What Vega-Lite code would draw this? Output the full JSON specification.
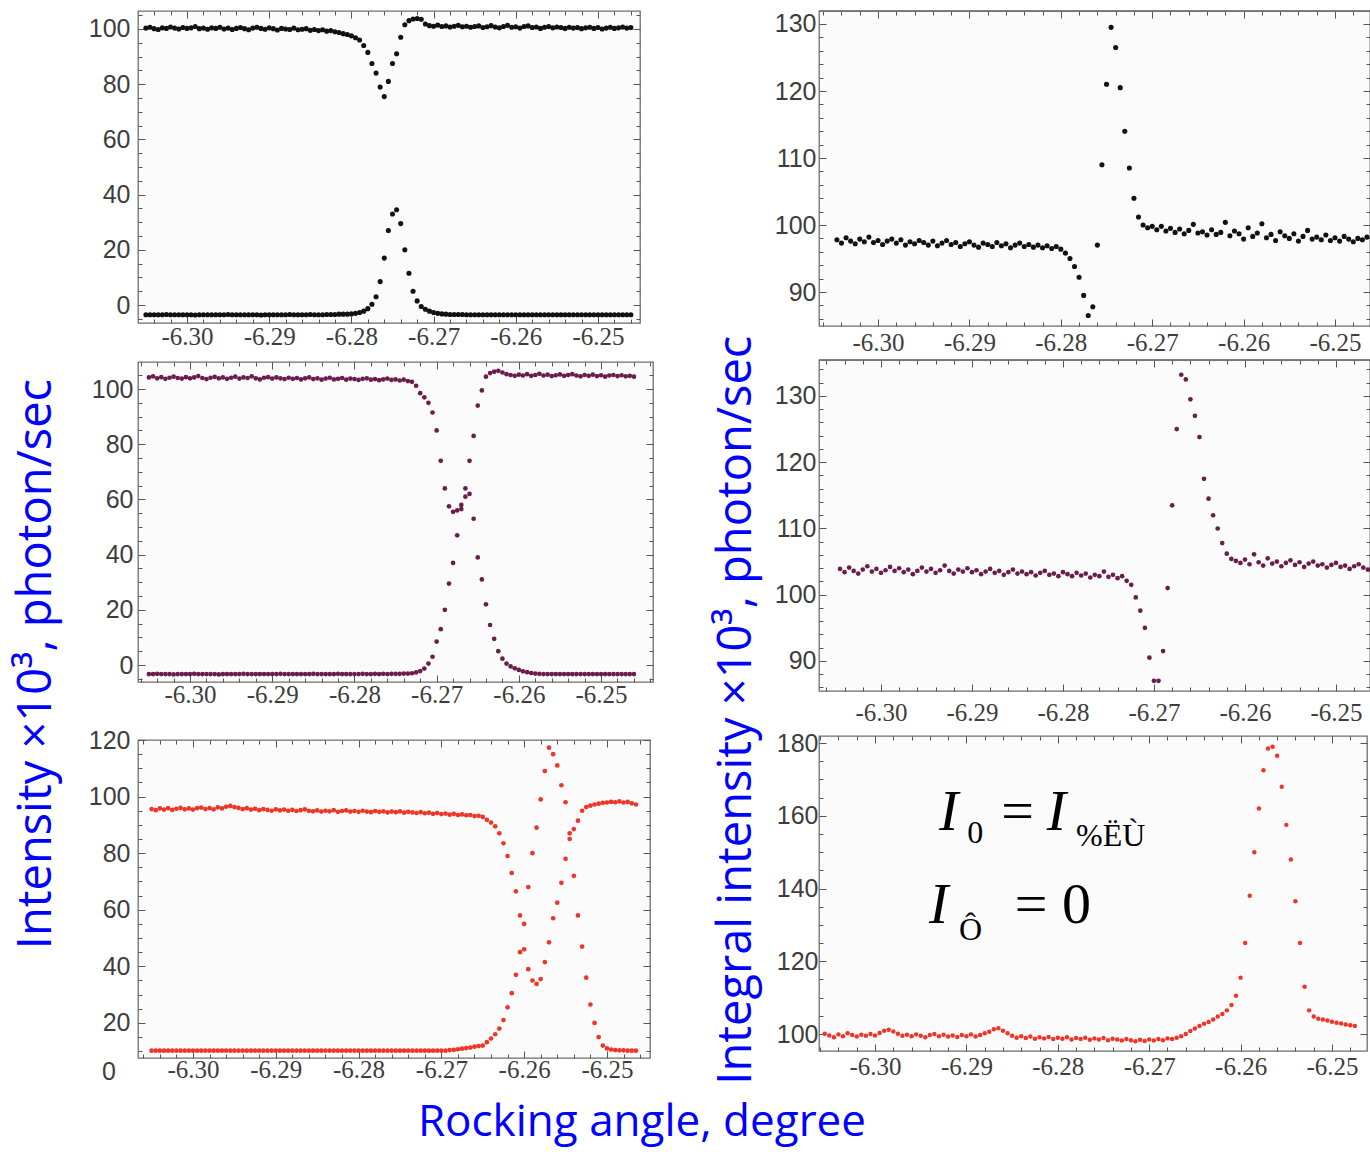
{
"$schema":"https://vega.github.io/schema/vega-lite/v6.json",
"background":"white",
"padding":{"left":12,"top":2,"right":0,"bottom":5},
"title":{"text":"Rocking angle, degree","orient":"bottom","anchor":"middle","offset":15,"dx":-50,"font":"Open Sans","fontSize":44,"fontWeight":"normal","color":"#0000ff"},
"datasets":{
"p1a":[{"x":-6.305,"y":100.3},{"x":-6.3045,"y":100.6},{"x":-6.304,"y":100.1},{"x":-6.3035,"y":99.8},{"x":-6.303,"y":100.4},{"x":-6.3025,"y":100.2},{"x":-6.302,"y":100.7},{"x":-6.3015,"y":100.3},{"x":-6.301,"y":100},{"x":-6.3005,"y":100.5},{"x":-6.3,"y":100.2},{"x":-6.2995,"y":100.4},{"x":-6.299,"y":100.9},{"x":-6.2985,"y":100.1},{"x":-6.298,"y":100.3},{"x":-6.2975,"y":99.9},{"x":-6.297,"y":100.4},{"x":-6.2965,"y":100.2},{"x":-6.296,"y":100.6},{"x":-6.2955,"y":100},{"x":-6.295,"y":100.3},{"x":-6.2945,"y":99.8},{"x":-6.294,"y":100.2},{"x":-6.2935,"y":100.5},{"x":-6.293,"y":100.1},{"x":-6.2925,"y":99.7},{"x":-6.292,"y":100.3},{"x":-6.2915,"y":100.6},{"x":-6.291,"y":100.2},{"x":-6.2905,"y":99.9},{"x":-6.29,"y":100.4},{"x":-6.2895,"y":100.1},{"x":-6.289,"y":99.6},{"x":-6.2885,"y":100.2},{"x":-6.288,"y":100},{"x":-6.2875,"y":99.8},{"x":-6.287,"y":100.3},{"x":-6.2865,"y":99.7},{"x":-6.286,"y":99.9},{"x":-6.2855,"y":100.1},{"x":-6.285,"y":99.5},{"x":-6.2845,"y":99.8},{"x":-6.284,"y":99.4},{"x":-6.2835,"y":99.7},{"x":-6.283,"y":99.2},{"x":-6.2825,"y":99.4},{"x":-6.282,"y":99},{"x":-6.2815,"y":98.7},{"x":-6.281,"y":98.3},{"x":-6.2805,"y":98},{"x":-6.28,"y":97.5},{"x":-6.2795,"y":96.8},{"x":-6.279,"y":96},{"x":-6.2785,"y":94},{"x":-6.278,"y":91.5},{"x":-6.2775,"y":87.5},{"x":-6.277,"y":84},{"x":-6.2765,"y":79},{"x":-6.276,"y":75.5},{"x":-6.2755,"y":81},{"x":-6.275,"y":87.5},{"x":-6.2745,"y":91},{"x":-6.274,"y":97},{"x":-6.2735,"y":101.5},{"x":-6.273,"y":103},{"x":-6.2725,"y":103.6},{"x":-6.272,"y":103.8},{"x":-6.2715,"y":103.5},{"x":-6.271,"y":101.8},{"x":-6.2705,"y":101.2},{"x":-6.27,"y":101},{"x":-6.2695,"y":101.4},{"x":-6.269,"y":100.9},{"x":-6.2685,"y":101.1},{"x":-6.268,"y":100.7},{"x":-6.2675,"y":101},{"x":-6.267,"y":101.3},{"x":-6.2665,"y":100.8},{"x":-6.266,"y":101},{"x":-6.2655,"y":100.6},{"x":-6.265,"y":100.9},{"x":-6.2645,"y":101.1},{"x":-6.264,"y":100.5},{"x":-6.2635,"y":100.8},{"x":-6.263,"y":101.2},{"x":-6.2625,"y":100.7},{"x":-6.262,"y":100.4},{"x":-6.2615,"y":100.9},{"x":-6.261,"y":101.3},{"x":-6.2605,"y":100.6},{"x":-6.26,"y":100.8},{"x":-6.2595,"y":100.3},{"x":-6.259,"y":100.9},{"x":-6.2585,"y":101.1},{"x":-6.258,"y":100.5},{"x":-6.2575,"y":100.7},{"x":-6.257,"y":100.2},{"x":-6.2565,"y":100.6},{"x":-6.256,"y":100.9},{"x":-6.2555,"y":100.4},{"x":-6.255,"y":100.7},{"x":-6.2545,"y":100.5},{"x":-6.254,"y":100.2},{"x":-6.2535,"y":100.6},{"x":-6.253,"y":100.3},{"x":-6.2525,"y":100.5},{"x":-6.252,"y":100.1},{"x":-6.2515,"y":100.4},{"x":-6.251,"y":100.6},{"x":-6.2505,"y":100.2},{"x":-6.25,"y":100.5},{"x":-6.2495,"y":100},{"x":-6.249,"y":100.3},{"x":-6.2485,"y":100.6},{"x":-6.248,"y":100.2},{"x":-6.2475,"y":100.4},{"x":-6.247,"y":100.7},{"x":-6.2465,"y":100.3},{"x":-6.246,"y":100.5}],
"p1b":[{"x":-6.305,"y":-3.5},{"x":-6.3045,"y":-3.5},{"x":-6.304,"y":-3.5},{"x":-6.3035,"y":-3.5},{"x":-6.303,"y":-3.5},{"x":-6.3025,"y":-3.4},{"x":-6.302,"y":-3.5},{"x":-6.3015,"y":-3.5},{"x":-6.301,"y":-3.5},{"x":-6.3005,"y":-3.5},{"x":-6.3,"y":-3.5},{"x":-6.2995,"y":-3.5},{"x":-6.299,"y":-3.6},{"x":-6.2985,"y":-3.5},{"x":-6.298,"y":-3.5},{"x":-6.2975,"y":-3.5},{"x":-6.297,"y":-3.5},{"x":-6.2965,"y":-3.5},{"x":-6.296,"y":-3.5},{"x":-6.2955,"y":-3.5},{"x":-6.295,"y":-3.4},{"x":-6.2945,"y":-3.5},{"x":-6.294,"y":-3.5},{"x":-6.2935,"y":-3.5},{"x":-6.293,"y":-3.5},{"x":-6.2925,"y":-3.5},{"x":-6.292,"y":-3.5},{"x":-6.2915,"y":-3.5},{"x":-6.291,"y":-3.6},{"x":-6.2905,"y":-3.5},{"x":-6.29,"y":-3.5},{"x":-6.2895,"y":-3.5},{"x":-6.289,"y":-3.5},{"x":-6.2885,"y":-3.5},{"x":-6.288,"y":-3.5},{"x":-6.2875,"y":-3.4},{"x":-6.287,"y":-3.5},{"x":-6.2865,"y":-3.5},{"x":-6.286,"y":-3.5},{"x":-6.2855,"y":-3.5},{"x":-6.285,"y":-3.4},{"x":-6.2845,"y":-3.5},{"x":-6.284,"y":-3.5},{"x":-6.2835,"y":-3.5},{"x":-6.283,"y":-3.4},{"x":-6.2825,"y":-3.4},{"x":-6.282,"y":-3.4},{"x":-6.2815,"y":-3.3},{"x":-6.281,"y":-3.3},{"x":-6.2805,"y":-3.3},{"x":-6.28,"y":-3.2},{"x":-6.2795,"y":-3},{"x":-6.279,"y":-2.7},{"x":-6.2785,"y":-2.2},{"x":-6.278,"y":-1.3},{"x":-6.2775,"y":0.3},{"x":-6.277,"y":3},{"x":-6.2765,"y":8.5},{"x":-6.276,"y":17},{"x":-6.2755,"y":27},{"x":-6.275,"y":33},{"x":-6.2745,"y":34.5},{"x":-6.274,"y":29.5},{"x":-6.2735,"y":20},{"x":-6.273,"y":11.5},{"x":-6.2725,"y":5},{"x":-6.272,"y":1.5},{"x":-6.2715,"y":-0.5},{"x":-6.271,"y":-1.5},{"x":-6.2705,"y":-2.2},{"x":-6.27,"y":-2.7},{"x":-6.2695,"y":-3},{"x":-6.269,"y":-3.2},{"x":-6.2685,"y":-3.3},{"x":-6.268,"y":-3.4},{"x":-6.2675,"y":-3.4},{"x":-6.267,"y":-3.4},{"x":-6.2665,"y":-3.4},{"x":-6.266,"y":-3.5},{"x":-6.2655,"y":-3.5},{"x":-6.265,"y":-3.5},{"x":-6.2645,"y":-3.5},{"x":-6.264,"y":-3.5},{"x":-6.2635,"y":-3.5},{"x":-6.263,"y":-3.5},{"x":-6.2625,"y":-3.5},{"x":-6.262,"y":-3.5},{"x":-6.2615,"y":-3.5},{"x":-6.261,"y":-3.5},{"x":-6.2605,"y":-3.5},{"x":-6.26,"y":-3.5},{"x":-6.2595,"y":-3.5},{"x":-6.259,"y":-3.5},{"x":-6.2585,"y":-3.5},{"x":-6.258,"y":-3.5},{"x":-6.2575,"y":-3.5},{"x":-6.257,"y":-3.5},{"x":-6.2565,"y":-3.5},{"x":-6.256,"y":-3.5},{"x":-6.2555,"y":-3.5},{"x":-6.255,"y":-3.5},{"x":-6.2545,"y":-3.5},{"x":-6.254,"y":-3.5},{"x":-6.2535,"y":-3.5},{"x":-6.253,"y":-3.5},{"x":-6.2525,"y":-3.5},{"x":-6.252,"y":-3.5},{"x":-6.2515,"y":-3.5},{"x":-6.251,"y":-3.5},{"x":-6.2505,"y":-3.5},{"x":-6.25,"y":-3.5},{"x":-6.2495,"y":-3.5},{"x":-6.249,"y":-3.5},{"x":-6.2485,"y":-3.5},{"x":-6.248,"y":-3.5},{"x":-6.2475,"y":-3.5},{"x":-6.247,"y":-3.5},{"x":-6.2465,"y":-3.5},{"x":-6.246,"y":-3.5}],
"p2a":[{"x":-6.305,"y":104.2},{"x":-6.3045,"y":104.6},{"x":-6.304,"y":103.9},{"x":-6.3035,"y":104.3},{"x":-6.303,"y":103.7},{"x":-6.3025,"y":104.1},{"x":-6.302,"y":104.5},{"x":-6.3015,"y":104},{"x":-6.301,"y":103.8},{"x":-6.3005,"y":104.3},{"x":-6.3,"y":103.9},{"x":-6.2995,"y":104.2},{"x":-6.299,"y":104.7},{"x":-6.2985,"y":104},{"x":-6.298,"y":103.6},{"x":-6.2975,"y":104.1},{"x":-6.297,"y":104.4},{"x":-6.2965,"y":103.9},{"x":-6.296,"y":104.2},{"x":-6.2955,"y":103.7},{"x":-6.295,"y":104.1},{"x":-6.2945,"y":104.5},{"x":-6.294,"y":103.8},{"x":-6.2935,"y":104.2},{"x":-6.293,"y":104},{"x":-6.2925,"y":104.6},{"x":-6.292,"y":103.9},{"x":-6.2915,"y":103.5},{"x":-6.291,"y":104.1},{"x":-6.2905,"y":104.3},{"x":-6.29,"y":103.8},{"x":-6.2895,"y":104.2},{"x":-6.289,"y":103.9},{"x":-6.2885,"y":103.6},{"x":-6.288,"y":104.1},{"x":-6.2875,"y":103.7},{"x":-6.287,"y":104},{"x":-6.2865,"y":103.5},{"x":-6.286,"y":103.9},{"x":-6.2855,"y":104.2},{"x":-6.285,"y":103.6},{"x":-6.2845,"y":103.9},{"x":-6.284,"y":103.4},{"x":-6.2835,"y":103.8},{"x":-6.283,"y":104.1},{"x":-6.2825,"y":103.5},{"x":-6.282,"y":103.7},{"x":-6.2815,"y":104},{"x":-6.281,"y":103.4},{"x":-6.2805,"y":103.8},{"x":-6.28,"y":103.6},{"x":-6.2795,"y":103.3},{"x":-6.279,"y":103.7},{"x":-6.2785,"y":103.9},{"x":-6.278,"y":103.4},{"x":-6.2775,"y":103.6},{"x":-6.277,"y":103.2},{"x":-6.2765,"y":103.5},{"x":-6.276,"y":103.8},{"x":-6.2755,"y":103.3},{"x":-6.275,"y":103.5},{"x":-6.2745,"y":103.1},{"x":-6.274,"y":103.4},{"x":-6.2735,"y":102.9},{"x":-6.273,"y":102.6},{"x":-6.2725,"y":101.2},{"x":-6.272,"y":98.5},{"x":-6.2715,"y":97},{"x":-6.271,"y":95},{"x":-6.2705,"y":91.5},{"x":-6.27,"y":85},{"x":-6.2695,"y":74},{"x":-6.269,"y":64},{"x":-6.2685,"y":57.5},{"x":-6.268,"y":55.5},{"x":-6.2675,"y":56},{"x":-6.267,"y":58},{"x":-6.2665,"y":64},{"x":-6.266,"y":74},{"x":-6.2655,"y":83},{"x":-6.265,"y":94},{"x":-6.2645,"y":99.5},{"x":-6.264,"y":104.5},{"x":-6.2635,"y":105.8},{"x":-6.263,"y":106.3},{"x":-6.2625,"y":106.6},{"x":-6.262,"y":106},{"x":-6.2615,"y":105.4},{"x":-6.261,"y":105.1},{"x":-6.2605,"y":104.8},{"x":-6.26,"y":105.2},{"x":-6.2595,"y":104.9},{"x":-6.259,"y":105.4},{"x":-6.2585,"y":104.8},{"x":-6.258,"y":105.1},{"x":-6.2575,"y":105.5},{"x":-6.257,"y":104.9},{"x":-6.2565,"y":105.2},{"x":-6.256,"y":104.7},{"x":-6.2555,"y":105},{"x":-6.255,"y":105.3},{"x":-6.2545,"y":104.8},{"x":-6.254,"y":105.1},{"x":-6.2535,"y":105.4},{"x":-6.253,"y":104.9},{"x":-6.2525,"y":104.6},{"x":-6.252,"y":105.1},{"x":-6.2515,"y":104.8},{"x":-6.251,"y":105.2},{"x":-6.2505,"y":104.7},{"x":-6.25,"y":105},{"x":-6.2495,"y":104.5},{"x":-6.249,"y":104.9},{"x":-6.2485,"y":105.1},{"x":-6.248,"y":104.7},{"x":-6.2475,"y":105},{"x":-6.247,"y":104.6},{"x":-6.2465,"y":104.8},{"x":-6.246,"y":104.5}],
"p2b":[{"x":-6.305,"y":-3.3},{"x":-6.3045,"y":-3.3},{"x":-6.304,"y":-3.2},{"x":-6.3035,"y":-3.3},{"x":-6.303,"y":-3.3},{"x":-6.3025,"y":-3.3},{"x":-6.302,"y":-3.4},{"x":-6.3015,"y":-3.3},{"x":-6.301,"y":-3.3},{"x":-6.3005,"y":-3.3},{"x":-6.3,"y":-3.3},{"x":-6.2995,"y":-3.2},{"x":-6.299,"y":-3.3},{"x":-6.2985,"y":-3.3},{"x":-6.298,"y":-3.3},{"x":-6.2975,"y":-3.3},{"x":-6.297,"y":-3.3},{"x":-6.2965,"y":-3.4},{"x":-6.296,"y":-3.3},{"x":-6.2955,"y":-3.3},{"x":-6.295,"y":-3.3},{"x":-6.2945,"y":-3.3},{"x":-6.294,"y":-3.3},{"x":-6.2935,"y":-3.2},{"x":-6.293,"y":-3.3},{"x":-6.2925,"y":-3.3},{"x":-6.292,"y":-3.3},{"x":-6.2915,"y":-3.3},{"x":-6.291,"y":-3.3},{"x":-6.2905,"y":-3.3},{"x":-6.29,"y":-3.3},{"x":-6.2895,"y":-3.3},{"x":-6.289,"y":-3.2},{"x":-6.2885,"y":-3.3},{"x":-6.288,"y":-3.3},{"x":-6.2875,"y":-3.3},{"x":-6.287,"y":-3.3},{"x":-6.2865,"y":-3.3},{"x":-6.286,"y":-3.3},{"x":-6.2855,"y":-3.3},{"x":-6.285,"y":-3.2},{"x":-6.2845,"y":-3.3},{"x":-6.284,"y":-3.3},{"x":-6.2835,"y":-3.3},{"x":-6.283,"y":-3.3},{"x":-6.2825,"y":-3.3},{"x":-6.282,"y":-3.2},{"x":-6.2815,"y":-3.3},{"x":-6.281,"y":-3.3},{"x":-6.2805,"y":-3.3},{"x":-6.28,"y":-3.3},{"x":-6.2795,"y":-3.3},{"x":-6.279,"y":-3.2},{"x":-6.2785,"y":-3.3},{"x":-6.278,"y":-3.3},{"x":-6.2775,"y":-3.2},{"x":-6.277,"y":-3.3},{"x":-6.2765,"y":-3.2},{"x":-6.276,"y":-3.3},{"x":-6.2755,"y":-3.2},{"x":-6.275,"y":-3.2},{"x":-6.2745,"y":-3.2},{"x":-6.274,"y":-3.1},{"x":-6.2735,"y":-3.1},{"x":-6.273,"y":-3},{"x":-6.2725,"y":-2.7},{"x":-6.272,"y":-2.2},{"x":-6.2715,"y":-1.3},{"x":-6.271,"y":0.5},{"x":-6.2705,"y":3},{"x":-6.27,"y":8.5},{"x":-6.2695,"y":13},{"x":-6.269,"y":20},{"x":-6.2685,"y":29.5},{"x":-6.268,"y":37},{"x":-6.2675,"y":47},{"x":-6.267,"y":56.5},{"x":-6.2665,"y":61},{"x":-6.266,"y":62},{"x":-6.2655,"y":53},{"x":-6.265,"y":39},{"x":-6.2645,"y":31},{"x":-6.264,"y":22},{"x":-6.2635,"y":14.5},{"x":-6.263,"y":9.5},{"x":-6.2625,"y":5},{"x":-6.262,"y":2.3},{"x":-6.2615,"y":0.5},{"x":-6.261,"y":-0.5},{"x":-6.2605,"y":-1.2},{"x":-6.26,"y":-1.8},{"x":-6.2595,"y":-2.3},{"x":-6.259,"y":-2.6},{"x":-6.2585,"y":-2.9},{"x":-6.258,"y":-3.1},{"x":-6.2575,"y":-3.2},{"x":-6.257,"y":-3.3},{"x":-6.2565,"y":-3.3},{"x":-6.256,"y":-3.3},{"x":-6.2555,"y":-3.3},{"x":-6.255,"y":-3.3},{"x":-6.2545,"y":-3.3},{"x":-6.254,"y":-3.3},{"x":-6.2535,"y":-3.3},{"x":-6.253,"y":-3.3},{"x":-6.2525,"y":-3.3},{"x":-6.252,"y":-3.3},{"x":-6.2515,"y":-3.3},{"x":-6.251,"y":-3.3},{"x":-6.2505,"y":-3.3},{"x":-6.25,"y":-3.3},{"x":-6.2495,"y":-3.3},{"x":-6.249,"y":-3.3},{"x":-6.2485,"y":-3.3},{"x":-6.248,"y":-3.3},{"x":-6.2475,"y":-3.3},{"x":-6.247,"y":-3.3},{"x":-6.2465,"y":-3.3},{"x":-6.246,"y":-3.3}],
"p3a":[{"x":-6.305,"y":95.6},{"x":-6.3045,"y":95.2},{"x":-6.304,"y":95.8},{"x":-6.3035,"y":95.4},{"x":-6.303,"y":95.9},{"x":-6.3025,"y":95.3},{"x":-6.302,"y":95.7},{"x":-6.3015,"y":96},{"x":-6.301,"y":95.5},{"x":-6.3005,"y":95.8},{"x":-6.3,"y":95.4},{"x":-6.2995,"y":95.9},{"x":-6.299,"y":96.1},{"x":-6.2985,"y":95.6},{"x":-6.298,"y":95.9},{"x":-6.2975,"y":95.5},{"x":-6.297,"y":96.2},{"x":-6.2965,"y":95.8},{"x":-6.296,"y":96.4},{"x":-6.2955,"y":96.7},{"x":-6.295,"y":96.3},{"x":-6.2945,"y":96},{"x":-6.294,"y":95.6},{"x":-6.2935,"y":95.9},{"x":-6.293,"y":95.4},{"x":-6.2925,"y":95.7},{"x":-6.292,"y":95.2},{"x":-6.2915,"y":95.6},{"x":-6.291,"y":95.3},{"x":-6.2905,"y":95},{"x":-6.29,"y":95.5},{"x":-6.2895,"y":95.1},{"x":-6.289,"y":95.4},{"x":-6.2885,"y":95},{"x":-6.288,"y":95.3},{"x":-6.2875,"y":94.9},{"x":-6.287,"y":95.2},{"x":-6.2865,"y":95.5},{"x":-6.286,"y":95},{"x":-6.2855,"y":94.8},{"x":-6.285,"y":95.1},{"x":-6.2845,"y":94.7},{"x":-6.284,"y":95},{"x":-6.2835,"y":94.8},{"x":-6.283,"y":95.2},{"x":-6.2825,"y":94.6},{"x":-6.282,"y":94.9},{"x":-6.2815,"y":95.1},{"x":-6.281,"y":94.7},{"x":-6.2805,"y":94.9},{"x":-6.28,"y":94.6},{"x":-6.2795,"y":95},{"x":-6.279,"y":94.7},{"x":-6.2785,"y":94.5},{"x":-6.278,"y":94.9},{"x":-6.2775,"y":94.6},{"x":-6.277,"y":94.8},{"x":-6.2765,"y":94.4},{"x":-6.276,"y":94.7},{"x":-6.2755,"y":94.5},{"x":-6.275,"y":94.8},{"x":-6.2745,"y":94.3},{"x":-6.274,"y":94.6},{"x":-6.2735,"y":94.4},{"x":-6.273,"y":94.2},{"x":-6.2725,"y":94.5},{"x":-6.272,"y":94.1},{"x":-6.2715,"y":94.3},{"x":-6.271,"y":93.9},{"x":-6.2705,"y":94.2},{"x":-6.27,"y":93.8},{"x":-6.2695,"y":94},{"x":-6.269,"y":93.6},{"x":-6.2685,"y":93.9},{"x":-6.268,"y":93.5},{"x":-6.2675,"y":93.7},{"x":-6.267,"y":93.4},{"x":-6.2665,"y":93.5},{"x":-6.266,"y":93.1},{"x":-6.2655,"y":93.2},{"x":-6.265,"y":92.8},{"x":-6.2645,"y":91.8},{"x":-6.264,"y":90.8},{"x":-6.2635,"y":89.5},{"x":-6.263,"y":87},{"x":-6.2625,"y":83.5},{"x":-6.262,"y":79},{"x":-6.2615,"y":73},{"x":-6.261,"y":66.5},{"x":-6.2605,"y":58},{"x":-6.26,"y":46},{"x":-6.2595,"y":39},{"x":-6.259,"y":35},{"x":-6.2585,"y":33.8},{"x":-6.258,"y":35.5},{"x":-6.2575,"y":41.5},{"x":-6.257,"y":48.5},{"x":-6.2565,"y":57},{"x":-6.256,"y":62.5},{"x":-6.2555,"y":69.5},{"x":-6.255,"y":78},{"x":-6.2545,"y":85},{"x":-6.254,"y":88.5},{"x":-6.2535,"y":91.5},{"x":-6.253,"y":95},{"x":-6.2525,"y":96.3},{"x":-6.252,"y":96.8},{"x":-6.2515,"y":97.2},{"x":-6.251,"y":97.5},{"x":-6.2505,"y":97.8},{"x":-6.25,"y":97.9},{"x":-6.2495,"y":98.1},{"x":-6.249,"y":98},{"x":-6.2485,"y":98.3},{"x":-6.248,"y":97.9},{"x":-6.2475,"y":98.1},{"x":-6.247,"y":97.6},{"x":-6.2465,"y":97.2}],
"p3b":[{"x":-6.305,"y":10.2},{"x":-6.3045,"y":10.2},{"x":-6.304,"y":10.2},{"x":-6.3035,"y":10.2},{"x":-6.303,"y":10.2},{"x":-6.3025,"y":10.2},{"x":-6.302,"y":10.2},{"x":-6.3015,"y":10.2},{"x":-6.301,"y":10.2},{"x":-6.3005,"y":10.2},{"x":-6.3,"y":10.2},{"x":-6.2995,"y":10.2},{"x":-6.299,"y":10.2},{"x":-6.2985,"y":10.2},{"x":-6.298,"y":10.2},{"x":-6.2975,"y":10.2},{"x":-6.297,"y":10.2},{"x":-6.2965,"y":10.2},{"x":-6.296,"y":10.2},{"x":-6.2955,"y":10.2},{"x":-6.295,"y":10.2},{"x":-6.2945,"y":10.2},{"x":-6.294,"y":10.2},{"x":-6.2935,"y":10.2},{"x":-6.293,"y":10.2},{"x":-6.2925,"y":10.2},{"x":-6.292,"y":10.2},{"x":-6.2915,"y":10.2},{"x":-6.291,"y":10.2},{"x":-6.2905,"y":10.2},{"x":-6.29,"y":10.2},{"x":-6.2895,"y":10.2},{"x":-6.289,"y":10.2},{"x":-6.2885,"y":10.2},{"x":-6.288,"y":10.2},{"x":-6.2875,"y":10.2},{"x":-6.287,"y":10.2},{"x":-6.2865,"y":10.2},{"x":-6.286,"y":10.2},{"x":-6.2855,"y":10.2},{"x":-6.285,"y":10.2},{"x":-6.2845,"y":10.2},{"x":-6.284,"y":10.2},{"x":-6.2835,"y":10.2},{"x":-6.283,"y":10.2},{"x":-6.2825,"y":10.2},{"x":-6.282,"y":10.2},{"x":-6.2815,"y":10.2},{"x":-6.281,"y":10.2},{"x":-6.2805,"y":10.2},{"x":-6.28,"y":10.2},{"x":-6.2795,"y":10.2},{"x":-6.279,"y":10.2},{"x":-6.2785,"y":10.2},{"x":-6.278,"y":10.2},{"x":-6.2775,"y":10.2},{"x":-6.277,"y":10.2},{"x":-6.2765,"y":10.2},{"x":-6.276,"y":10.2},{"x":-6.2755,"y":10.2},{"x":-6.275,"y":10.2},{"x":-6.2745,"y":10.2},{"x":-6.274,"y":10.2},{"x":-6.2735,"y":10.2},{"x":-6.273,"y":10.2},{"x":-6.2725,"y":10.2},{"x":-6.272,"y":10.2},{"x":-6.2715,"y":10.2},{"x":-6.271,"y":10.2},{"x":-6.2705,"y":10.2},{"x":-6.27,"y":10.2},{"x":-6.2695,"y":10.2},{"x":-6.269,"y":10.4},{"x":-6.2685,"y":10.5},{"x":-6.268,"y":10.7},{"x":-6.2675,"y":10.9},{"x":-6.267,"y":11.1},{"x":-6.2665,"y":11.3},{"x":-6.266,"y":11.6},{"x":-6.2655,"y":11.8},{"x":-6.265,"y":12},{"x":-6.2645,"y":13.2},{"x":-6.264,"y":14.5},{"x":-6.2635,"y":16},{"x":-6.263,"y":18},{"x":-6.2625,"y":21},{"x":-6.262,"y":25.5},{"x":-6.2615,"y":30.5},{"x":-6.261,"y":37},{"x":-6.2605,"y":45},{"x":-6.26,"y":55},{"x":-6.2595,"y":68},{"x":-6.259,"y":80},{"x":-6.2585,"y":89},{"x":-6.258,"y":99},{"x":-6.2575,"y":109},{"x":-6.257,"y":117.3},{"x":-6.2565,"y":115},{"x":-6.256,"y":111},{"x":-6.2555,"y":104},{"x":-6.255,"y":98},{"x":-6.2545,"y":87},{"x":-6.254,"y":72},{"x":-6.2535,"y":58},{"x":-6.253,"y":47},{"x":-6.2525,"y":36},{"x":-6.252,"y":26.5},{"x":-6.2515,"y":20},{"x":-6.251,"y":15},{"x":-6.2505,"y":12},{"x":-6.25,"y":11},{"x":-6.2495,"y":10.6},{"x":-6.249,"y":10.4},{"x":-6.2485,"y":10.3},{"x":-6.248,"y":10.3},{"x":-6.2475,"y":10.2},{"x":-6.247,"y":10.2},{"x":-6.2465,"y":10.2}],
"p3zero":[{"x":-6.3093,"y":2.65,"t":"0"}],
"p4":[{"x":-6.3045,"y":97.8},{"x":-6.304,"y":97.3},{"x":-6.3035,"y":98.1},{"x":-6.303,"y":97.6},{"x":-6.3025,"y":97.2},{"x":-6.302,"y":97.9},{"x":-6.3015,"y":97.5},{"x":-6.301,"y":98.2},{"x":-6.3005,"y":97.4},{"x":-6.3,"y":97.7},{"x":-6.2995,"y":97.1},{"x":-6.299,"y":97.6},{"x":-6.2985,"y":97.9},{"x":-6.298,"y":97.3},{"x":-6.2975,"y":97.8},{"x":-6.297,"y":97},{"x":-6.2965,"y":97.5},{"x":-6.296,"y":97.2},{"x":-6.2955,"y":97.7},{"x":-6.295,"y":97.4},{"x":-6.2945,"y":97},{"x":-6.294,"y":97.6},{"x":-6.2935,"y":96.9},{"x":-6.293,"y":97.3},{"x":-6.2925,"y":97.7},{"x":-6.292,"y":97.1},{"x":-6.2915,"y":97.4},{"x":-6.291,"y":96.8},{"x":-6.2905,"y":97.2},{"x":-6.29,"y":97.5},{"x":-6.2895,"y":97},{"x":-6.289,"y":96.7},{"x":-6.2885,"y":97.3},{"x":-6.288,"y":97.1},{"x":-6.2875,"y":96.8},{"x":-6.287,"y":97.4},{"x":-6.2865,"y":96.9},{"x":-6.286,"y":97.2},{"x":-6.2855,"y":96.6},{"x":-6.285,"y":97},{"x":-6.2845,"y":97.3},{"x":-6.284,"y":96.8},{"x":-6.2835,"y":97.1},{"x":-6.283,"y":96.7},{"x":-6.2825,"y":97},{"x":-6.282,"y":96.6},{"x":-6.2815,"y":96.9},{"x":-6.281,"y":96.5},{"x":-6.2805,"y":96.8},{"x":-6.28,"y":96.4},{"x":-6.2795,"y":95.8},{"x":-6.279,"y":95},{"x":-6.2785,"y":93.8},{"x":-6.278,"y":92.2},{"x":-6.2775,"y":89.5},{"x":-6.277,"y":86.5},{"x":-6.2765,"y":87.8},{"x":-6.276,"y":97},{"x":-6.2755,"y":109},{"x":-6.275,"y":121},{"x":-6.2745,"y":129.5},{"x":-6.274,"y":126.5},{"x":-6.2735,"y":120.5},{"x":-6.273,"y":114},{"x":-6.2725,"y":108.5},{"x":-6.272,"y":104},{"x":-6.2715,"y":101.2},{"x":-6.271,"y":100},{"x":-6.2705,"y":99.6},{"x":-6.27,"y":99.8},{"x":-6.2695,"y":99.3},{"x":-6.269,"y":99.8},{"x":-6.2685,"y":99.1},{"x":-6.268,"y":99.5},{"x":-6.2675,"y":98.9},{"x":-6.267,"y":99.4},{"x":-6.2665,"y":98.7},{"x":-6.266,"y":99.2},{"x":-6.2655,"y":100.1},{"x":-6.265,"y":98.8},{"x":-6.2645,"y":99},{"x":-6.264,"y":98.5},{"x":-6.2635,"y":99.3},{"x":-6.263,"y":98.6},{"x":-6.2625,"y":98.9},{"x":-6.262,"y":100.4},{"x":-6.2615,"y":98.4},{"x":-6.261,"y":99.1},{"x":-6.2605,"y":98.7},{"x":-6.26,"y":97.9},{"x":-6.2595,"y":99.6},{"x":-6.259,"y":98.3},{"x":-6.2585,"y":98.8},{"x":-6.258,"y":100.2},{"x":-6.2575,"y":98.1},{"x":-6.257,"y":98.6},{"x":-6.2565,"y":97.7},{"x":-6.256,"y":99},{"x":-6.2555,"y":98.4},{"x":-6.255,"y":98},{"x":-6.2545,"y":98.7},{"x":-6.254,"y":97.6},{"x":-6.2535,"y":98.3},{"x":-6.253,"y":99.2},{"x":-6.2525,"y":97.9},{"x":-6.252,"y":98.2},{"x":-6.2515,"y":97.8},{"x":-6.251,"y":98.5},{"x":-6.2505,"y":97.7},{"x":-6.25,"y":98.1},{"x":-6.2495,"y":97.6},{"x":-6.249,"y":98.3},{"x":-6.2485,"y":97.9},{"x":-6.248,"y":97.5},{"x":-6.2475,"y":98},{"x":-6.247,"y":97.8},{"x":-6.2465,"y":98.2}],
"p5":[{"x":-6.3045,"y":103.9},{"x":-6.304,"y":103.4},{"x":-6.3035,"y":104.1},{"x":-6.303,"y":103.6},{"x":-6.3025,"y":103.2},{"x":-6.302,"y":103.8},{"x":-6.3015,"y":104.3},{"x":-6.301,"y":103.5},{"x":-6.3005,"y":103.9},{"x":-6.3,"y":103.3},{"x":-6.2995,"y":103.7},{"x":-6.299,"y":104.2},{"x":-6.2985,"y":103.6},{"x":-6.298,"y":104},{"x":-6.2975,"y":103.4},{"x":-6.297,"y":103.8},{"x":-6.2965,"y":103.1},{"x":-6.296,"y":103.6},{"x":-6.2955,"y":104.1},{"x":-6.295,"y":103.5},{"x":-6.2945,"y":103.9},{"x":-6.294,"y":103.3},{"x":-6.2935,"y":103.7},{"x":-6.293,"y":104.4},{"x":-6.2925,"y":103.6},{"x":-6.292,"y":103.2},{"x":-6.2915,"y":103.8},{"x":-6.291,"y":103.5},{"x":-6.2905,"y":104},{"x":-6.29,"y":103.4},{"x":-6.2895,"y":103.7},{"x":-6.289,"y":103.1},{"x":-6.2885,"y":103.5},{"x":-6.288,"y":103.9},{"x":-6.2875,"y":103.3},{"x":-6.287,"y":103.6},{"x":-6.2865,"y":103},{"x":-6.286,"y":103.4},{"x":-6.2855,"y":103.8},{"x":-6.285,"y":103.2},{"x":-6.2845,"y":103.5},{"x":-6.284,"y":103.1},{"x":-6.2835,"y":103.4},{"x":-6.283,"y":102.9},{"x":-6.2825,"y":103.3},{"x":-6.282,"y":103.6},{"x":-6.2815,"y":103},{"x":-6.281,"y":103.2},{"x":-6.2805,"y":102.8},{"x":-6.28,"y":103.4},{"x":-6.2795,"y":103.1},{"x":-6.279,"y":102.8},{"x":-6.2785,"y":103.3},{"x":-6.278,"y":102.9},{"x":-6.2775,"y":103.2},{"x":-6.277,"y":102.6},{"x":-6.2765,"y":103},{"x":-6.276,"y":102.8},{"x":-6.2755,"y":103.5},{"x":-6.275,"y":102.7},{"x":-6.2745,"y":103},{"x":-6.274,"y":102.5},{"x":-6.2735,"y":102.8},{"x":-6.273,"y":102.1},{"x":-6.2725,"y":101.5},{"x":-6.272,"y":99.6},{"x":-6.2715,"y":97.6},{"x":-6.271,"y":95},{"x":-6.2705,"y":90.5},{"x":-6.27,"y":87},{"x":-6.2695,"y":87},{"x":-6.269,"y":91.5},{"x":-6.2685,"y":101},{"x":-6.268,"y":113.5},{"x":-6.2675,"y":125},{"x":-6.267,"y":133.2},{"x":-6.2665,"y":132.5},{"x":-6.266,"y":129.5},{"x":-6.2655,"y":127},{"x":-6.265,"y":123.8},{"x":-6.2645,"y":117.5},{"x":-6.264,"y":114.5},{"x":-6.2635,"y":112},{"x":-6.263,"y":110},{"x":-6.2625,"y":107.8},{"x":-6.262,"y":106.2},{"x":-6.2615,"y":105.4},{"x":-6.261,"y":105.1},{"x":-6.2605,"y":104.8},{"x":-6.26,"y":105.3},{"x":-6.2595,"y":104.6},{"x":-6.259,"y":106.1},{"x":-6.2585,"y":104.9},{"x":-6.258,"y":104.4},{"x":-6.2575,"y":105.5},{"x":-6.257,"y":104.7},{"x":-6.2565,"y":105},{"x":-6.256,"y":104.3},{"x":-6.2555,"y":104.8},{"x":-6.255,"y":105.2},{"x":-6.2545,"y":104.5},{"x":-6.254,"y":104.9},{"x":-6.2535,"y":104.2},{"x":-6.253,"y":104.7},{"x":-6.2525,"y":105},{"x":-6.252,"y":104.4},{"x":-6.2515,"y":104.6},{"x":-6.251,"y":104.1},{"x":-6.2505,"y":104.5},{"x":-6.25,"y":104.8},{"x":-6.2495,"y":104.2},{"x":-6.249,"y":104.4},{"x":-6.2485,"y":103.9},{"x":-6.248,"y":104.3},{"x":-6.2475,"y":104.6},{"x":-6.247,"y":104.1},{"x":-6.2465,"y":103.8}],
"p6":[{"x":-6.3055,"y":100.1},{"x":-6.305,"y":99.6},{"x":-6.3045,"y":99.1},{"x":-6.304,"y":99.9},{"x":-6.3035,"y":99.4},{"x":-6.303,"y":100.2},{"x":-6.3025,"y":99.7},{"x":-6.302,"y":99.3},{"x":-6.3015,"y":99.8},{"x":-6.301,"y":99.5},{"x":-6.3005,"y":100},{"x":-6.3,"y":99.6},{"x":-6.2995,"y":100.3},{"x":-6.299,"y":100.9},{"x":-6.2985,"y":101.2},{"x":-6.298,"y":100.7},{"x":-6.2975,"y":100.1},{"x":-6.297,"y":99.5},{"x":-6.2965,"y":99.8},{"x":-6.296,"y":99.4},{"x":-6.2955,"y":99.9},{"x":-6.295,"y":99.5},{"x":-6.2945,"y":99.1},{"x":-6.294,"y":99.7},{"x":-6.2935,"y":100},{"x":-6.293,"y":99.4},{"x":-6.2925,"y":99.8},{"x":-6.292,"y":99.3},{"x":-6.2915,"y":99.6},{"x":-6.291,"y":99.2},{"x":-6.2905,"y":99.7},{"x":-6.29,"y":99.4},{"x":-6.2895,"y":99.9},{"x":-6.289,"y":99.3},{"x":-6.2885,"y":99.7},{"x":-6.288,"y":100.2},{"x":-6.2875,"y":100.6},{"x":-6.287,"y":101.3},{"x":-6.2865,"y":101.6},{"x":-6.286,"y":100.9},{"x":-6.2855,"y":100.2},{"x":-6.285,"y":99.5},{"x":-6.2845,"y":99},{"x":-6.284,"y":99.4},{"x":-6.2835,"y":98.9},{"x":-6.283,"y":99.3},{"x":-6.2825,"y":98.7},{"x":-6.282,"y":99.1},{"x":-6.2815,"y":98.8},{"x":-6.281,"y":99.2},{"x":-6.2805,"y":98.6},{"x":-6.28,"y":99},{"x":-6.2795,"y":98.7},{"x":-6.279,"y":99.1},{"x":-6.2785,"y":98.5},{"x":-6.278,"y":98.9},{"x":-6.2775,"y":98.6},{"x":-6.277,"y":99},{"x":-6.2765,"y":98.4},{"x":-6.276,"y":98.8},{"x":-6.2755,"y":98.5},{"x":-6.275,"y":98.9},{"x":-6.2745,"y":98.3},{"x":-6.274,"y":98.7},{"x":-6.2735,"y":98.5},{"x":-6.273,"y":98.2},{"x":-6.2725,"y":98.6},{"x":-6.272,"y":98.3},{"x":-6.2715,"y":98},{"x":-6.271,"y":98.4},{"x":-6.2705,"y":98.1},{"x":-6.27,"y":98.5},{"x":-6.2695,"y":98.2},{"x":-6.269,"y":98.6},{"x":-6.2685,"y":98.3},{"x":-6.268,"y":98.8},{"x":-6.2675,"y":98.6},{"x":-6.267,"y":99},{"x":-6.2665,"y":99.4},{"x":-6.266,"y":100},{"x":-6.2655,"y":100.8},{"x":-6.265,"y":101.5},{"x":-6.2645,"y":102.2},{"x":-6.264,"y":102.8},{"x":-6.2635,"y":103.3},{"x":-6.263,"y":104},{"x":-6.2625,"y":104.8},{"x":-6.262,"y":105.5},{"x":-6.2615,"y":106.5},{"x":-6.261,"y":108},{"x":-6.2605,"y":110.5},{"x":-6.26,"y":115.5},{"x":-6.2595,"y":125},{"x":-6.259,"y":138},{"x":-6.2585,"y":150},{"x":-6.258,"y":162},{"x":-6.2575,"y":172.5},{"x":-6.257,"y":178.5},{"x":-6.2565,"y":179},{"x":-6.256,"y":176.5},{"x":-6.2555,"y":168},{"x":-6.255,"y":157.5},{"x":-6.2545,"y":148},{"x":-6.254,"y":136.5},{"x":-6.2535,"y":125},{"x":-6.253,"y":113},{"x":-6.2525,"y":106.5},{"x":-6.252,"y":104.8},{"x":-6.2515,"y":104.2},{"x":-6.251,"y":104},{"x":-6.2505,"y":103.7},{"x":-6.25,"y":103.4},{"x":-6.2495,"y":103.1},{"x":-6.249,"y":102.9},{"x":-6.2485,"y":102.6},{"x":-6.248,"y":102.4},{"x":-6.2475,"y":102.2}],
"annI":[{"x":-6.293,"y":156.1,"t":"I"},{"x":-6.2812,"y":156.1,"t":"I"},{"x":-6.2941,"y":130.5,"t":"I"}],
"annEq":[{"x":-6.2862,"y":156.1,"t":"="},{"x":-6.2847,"y":130.5,"t":"= 0"}],
"annSub":[{"x":-6.2899,"y":152.5,"t":"0"},{"x":-6.278,"y":151.7,"t":"%ËÙ"},{"x":-6.2908,"y":125.8,"t":"Ô"}]
},
"hconcat":[
{"concat":[
 {"width":502,"height":312,"layer":[
  {"data":{"name":"p1a"},"mark":{"type":"circle","size":26,"color":"#111111","opacity":1},"encoding":{
   "x":{"field":"x","type":"quantitative","scale":{"domain":[-6.30596,-6.24489],"nice":false,"zero":false},"axis":{"orient":"bottom","title":null,"tickCount":30,"labelPadding":8,"labelExpr":"abs(datum.value*100-round(datum.value*100))<0.01?'-'+format(abs(datum.value),'.2f'):''","tickSize":{"condition":{"test":"abs(datum.value*100-round(datum.value*100))<0.01","value":-7},"value":-4}}},
   "y":{"field":"y","type":"quantitative","scale":{"domain":[-6.5,106.5],"nice":false,"zero":false},"axis":{"orient":"left","title":null,"tickCount":22,"labelPadding":15,"labelExpr":"datum.value%20==0?datum.label:''","tickSize":{"condition":{"test":"datum.value%20==0","value":-7},"value":-4}}}}},
  {"data":{"name":"p1b"},"mark":{"type":"circle","size":26,"color":"#111111","opacity":1},"encoding":{
   "x":{"field":"x","type":"quantitative","scale":{"domain":[-6.30596,-6.24489],"nice":false,"zero":false},"axis":{"orient":"top","title":null,"tickCount":30,"labels":false,"tickSize":{"condition":{"test":"abs(datum.value*100-round(datum.value*100))<0.01","value":-7},"value":-4}}},
   "y":{"field":"y","type":"quantitative","scale":{"domain":[-6.5,106.5],"nice":false,"zero":false},"axis":{"orient":"right","title":null,"tickCount":22,"labels":false,"tickSize":{"condition":{"test":"datum.value%20==0","value":-7},"value":-4}}}}}
 ],"resolve":{"axis":{"x":"independent","y":"independent"}}},
 {"concat":[
  {"width":515,"height":320,"layer":[
   {"data":{"name":"p2a"},"mark":{"type":"circle","size":22,"color":"#6a1c4c","opacity":1},"encoding":{
    "x":{"field":"x","type":"quantitative","scale":{"domain":[-6.30633,-6.24368],"nice":false,"zero":false},"axis":{"orient":"bottom","title":null,"tickCount":30,"labelPadding":7,"labelExpr":"abs(datum.value*100-round(datum.value*100))<0.01?'-'+format(abs(datum.value),'.2f'):''","tickSize":{"condition":{"test":"abs(datum.value*100-round(datum.value*100))<0.01","value":-7},"value":-4}}},
    "y":{"field":"y","type":"quantitative","scale":{"domain":[-6.16,109.8],"nice":false,"zero":false},"axis":{"orient":"left","title":null,"tickCount":22,"labelPadding":12,"labelExpr":"datum.value%20==0?datum.label:''","tickSize":{"condition":{"test":"datum.value%20==0","value":-7},"value":-4}}}}},
   {"data":{"name":"p2b"},"mark":{"type":"circle","size":22,"color":"#6a1c4c","opacity":1},"encoding":{
    "x":{"field":"x","type":"quantitative","scale":{"domain":[-6.30633,-6.24368],"nice":false,"zero":false},"axis":{"orient":"top","title":null,"tickCount":30,"labels":false,"tickSize":{"condition":{"test":"abs(datum.value*100-round(datum.value*100))<0.01","value":-7},"value":-4}}},
    "y":{"field":"y","type":"quantitative","scale":{"domain":[-6.16,109.8],"nice":false,"zero":false},"axis":{"orient":"right","title":null,"tickCount":22,"labels":false,"tickSize":{"condition":{"test":"datum.value%20==0","value":-7},"value":-4}}}}}
  ],"resolve":{"axis":{"x":"independent","y":"independent"}}},
  {"width":512,"height":318,"layer":[
   {"data":{"name":"p3a"},"mark":{"type":"circle","size":22,"color":"#ee3528","opacity":1},"encoding":{
    "x":{"field":"x","type":"quantitative","scale":{"domain":[-6.30664,-6.2448],"nice":false,"zero":false},"axis":{"orient":"bottom","title":null,"tickCount":30,"labelPadding":6,"labelExpr":"abs(datum.value*100-round(datum.value*100))<0.01?'-'+format(abs(datum.value),'.2f'):''","tickSize":{"condition":{"test":"abs(datum.value*100-round(datum.value*100))<0.01","value":-7},"value":-4}}},
    "y":{"field":"y","type":"quantitative","scale":{"domain":[7.6,120],"nice":false,"zero":false},"axis":{"orient":"left","title":null,"tickCount":22,"labelPadding":15,"labelExpr":"datum.value%20==0?datum.label:''","tickSize":{"condition":{"test":"datum.value%20==0","value":-7},"value":-4}}}}},
   {"data":{"name":"p3b"},"mark":{"type":"circle","size":22,"color":"#ee3528","opacity":1},"encoding":{
    "x":{"field":"x","type":"quantitative","scale":{"domain":[-6.30664,-6.2448],"nice":false,"zero":false},"axis":{"orient":"top","title":null,"tickCount":30,"labels":false,"tickSize":{"condition":{"test":"abs(datum.value*100-round(datum.value*100))<0.01","value":-7},"value":-4}}},
    "y":{"field":"y","type":"quantitative","scale":{"domain":[7.6,120],"nice":false,"zero":false},"axis":{"orient":"right","title":null,"tickCount":22,"labels":false,"tickSize":{"condition":{"test":"datum.value%20==0","value":-7},"value":-4}}}}},
   {"data":{"name":"p3zero"},"mark":{"type":"text","font":"Liberation Sans","fontSize":25,"align":"right","baseline":"middle","color":"#3d3d3d"},"encoding":{
    "x":{"field":"x","type":"quantitative","scale":{"domain":[-6.30664,-6.2448],"nice":false,"zero":false},"axis":null},
    "y":{"field":"y","type":"quantitative","scale":{"domain":[7.6,120],"nice":false,"zero":false},"axis":null},
    "text":{"field":"t"}}}
  ],"resolve":{"axis":{"x":"independent","y":"independent"}}}
 ],"columns":1,"spacing":16,"align":"none"}
],"columns":1,"spacing":7,"align":"none",
"title":{"text":"Intensity ×10³, photon/sec","orient":"left","anchor":"middle","offset":27,"dx":-120,"font":"Open Sans","fontSize":47,"fontWeight":"normal","color":"#0000ff"}},
{"concat":[
 {"width":551,"height":315,"layer":[
  {"data":{"name":"p4"},"mark":{"type":"circle","size":26,"color":"#111111","opacity":1},"encoding":{
   "x":{"field":"x","type":"quantitative","scale":{"domain":[-6.30646,-6.24617],"nice":false,"zero":false},"axis":{"orient":"bottom","title":null,"tickCount":30,"labelPadding":11,"labelExpr":"abs(datum.value*100-round(datum.value*100))<0.01?'-'+format(abs(datum.value),'.2f'):''","tickSize":{"condition":{"test":"abs(datum.value*100-round(datum.value*100))<0.01","value":-7},"value":-4}}},
   "y":{"field":"y","type":"quantitative","scale":{"domain":[84.93,131.94],"nice":false,"zero":false},"axis":{"orient":"left","title":null,"tickCount":24,"labelPadding":10,"labelExpr":"datum.value%10==0?datum.label:''","tickSize":{"condition":{"test":"datum.value%10==0","value":-7},"value":-4}}}}},
  {"data":{"values":[{}]},"mark":{"type":"rule","color":"#6e6e6e","strokeWidth":1.3},"encoding":{
   "x":{"datum":-6.30646,"type":"quantitative","scale":{"domain":[-6.30646,-6.24617],"nice":false,"zero":false},"axis":{"orient":"top","title":null,"tickCount":30,"labels":false,"tickSize":{"condition":{"test":"abs(datum.value*100-round(datum.value*100))<0.01","value":-7},"value":-4}}},
   "x2":{"datum":-6.24617},
   "y":{"datum":131.94,"type":"quantitative","scale":{"domain":[84.93,131.94],"nice":false,"zero":false},"axis":{"orient":"right","title":null,"tickCount":24,"labels":false,"tickSize":{"condition":{"test":"datum.value%10==0","value":-7},"value":-4}}}}}
 ],"resolve":{"axis":{"x":"independent","y":"independent"}}},
 {"concat":[
  {"width":551,"height":331,"layer":[
   {"data":{"name":"p5"},"mark":{"type":"circle","size":22,"color":"#6a1c4c","opacity":1},"encoding":{
    "x":{"field":"x","type":"quantitative","scale":{"domain":[-6.30681,-6.24626],"nice":false,"zero":false},"axis":{"orient":"bottom","title":null,"tickCount":30,"labelPadding":16,"labelExpr":"abs(datum.value*100-round(datum.value*100))<0.01?'-'+format(abs(datum.value),'.2f'):''","tickSize":{"condition":{"test":"abs(datum.value*100-round(datum.value*100))<0.01","value":-7},"value":-4}}},
    "y":{"field":"y","type":"quantitative","scale":{"domain":[85.47,135.43],"nice":false,"zero":false},"axis":{"orient":"left","title":null,"tickCount":24,"labelPadding":10,"labelExpr":"datum.value%10==0?datum.label:''","tickSize":{"condition":{"test":"datum.value%10==0","value":-7},"value":-4}}}}},
   {"data":{"values":[{}]},"mark":{"type":"rule","color":"#6e6e6e","strokeWidth":1.3},"encoding":{
    "x":{"datum":-6.30681,"type":"quantitative","scale":{"domain":[-6.30681,-6.24626],"nice":false,"zero":false},"axis":{"orient":"top","title":null,"tickCount":30,"labels":false,"tickSize":{"condition":{"test":"abs(datum.value*100-round(datum.value*100))<0.01","value":-7},"value":-4}}},
    "x2":{"datum":-6.24626},
    "y":{"datum":135.43,"type":"quantitative","scale":{"domain":[85.47,135.43],"nice":false,"zero":false},"axis":{"orient":"right","title":null,"tickCount":24,"labels":false,"tickSize":{"condition":{"test":"datum.value%10==0","value":-7},"value":-4}}}}}
  ],"resolve":{"axis":{"x":"independent","y":"independent"}}},
  {"width":548,"height":315,"layer":[
   {"data":{"name":"p6"},"mark":{"type":"circle","size":20,"color":"#ee3528","opacity":1},"encoding":{
    "x":{"field":"x","type":"quantitative","scale":{"domain":[-6.30613,-6.24617],"nice":false,"zero":false},"axis":{"orient":"bottom","title":null,"tickCount":30,"labelPadding":10,"labelExpr":"abs(datum.value*100-round(datum.value*100))<0.01?'-'+format(abs(datum.value),'.2f'):''","tickSize":{"condition":{"test":"abs(datum.value*100-round(datum.value*100))<0.01","value":-7},"value":-4}}},
    "y":{"field":"y","type":"quantitative","scale":{"domain":[95.33,181.93],"nice":false,"zero":false},"axis":{"orient":"left","title":null,"tickCount":19,"labelPadding":8,"labelExpr":"datum.value%20==0?datum.label:''","tickSize":{"condition":{"test":"datum.value%20==0","value":-7},"value":-4}}}}},
   {"data":{"name":"annI"},"mark":{"type":"text","font":"Liberation Serif","fontStyle":"italic","fontSize":58,"align":"left","baseline":"alphabetic","color":"#000000"},"encoding":{
    "x":{"field":"x","type":"quantitative","scale":{"domain":[-6.30613,-6.24617],"nice":false,"zero":false},"axis":{"orient":"top","title":null,"tickCount":30,"labels":false,"tickSize":{"condition":{"test":"abs(datum.value*100-round(datum.value*100))<0.01","value":-7},"value":-4}}},
    "y":{"field":"y","type":"quantitative","scale":{"domain":[95.33,181.93],"nice":false,"zero":false},"axis":{"orient":"right","title":null,"tickCount":19,"labels":false,"tickSize":{"condition":{"test":"datum.value%20==0","value":-7},"value":-4}}},
    "text":{"field":"t"}}},
   {"data":{"name":"annEq"},"mark":{"type":"text","font":"Liberation Serif","fontSize":58,"align":"left","baseline":"alphabetic","color":"#000000"},"encoding":{
    "x":{"field":"x","type":"quantitative","scale":{"domain":[-6.30613,-6.24617],"nice":false,"zero":false},"axis":null},
    "y":{"field":"y","type":"quantitative","scale":{"domain":[95.33,181.93],"nice":false,"zero":false},"axis":null},
    "text":{"field":"t"}}},
   {"data":{"name":"annSub"},"mark":{"type":"text","font":"Liberation Serif","fontSize":32,"align":"left","baseline":"alphabetic","color":"#000000"},"encoding":{
    "x":{"field":"x","type":"quantitative","scale":{"domain":[-6.30613,-6.24617],"nice":false,"zero":false},"axis":null},
    "y":{"field":"y","type":"quantitative","scale":{"domain":[95.33,181.93],"nice":false,"zero":false},"axis":null},
    "text":{"field":"t"}}}
  ],"resolve":{"axis":{"x":"independent","y":"independent"}}}
 ],"columns":1,"spacing":1,"align":"none"}
],"columns":1,"spacing":-3,"align":"none",
"title":{"text":"Integral intensity ×10³, photon/sec","orient":"left","anchor":"middle","offset":13,"dx":-164,"font":"Open Sans","fontSize":47,"fontWeight":"normal","color":"#0000ff"}}
],
"spacing":57,
"config":{
 "view":{"stroke":"#6e6e6e","strokeWidth":1.3,"fill":"#fbfbfb"},
 "axis":{"grid":false,"domain":false,"tickColor":"#555555","tickWidth":1,"labelColor":"#3d3d3d","labelFontSize":25,"labelOverlap":false,"labelFlush":false},
 "axisBottom":{"labelFont":"Liberation Serif"},
 "axisLeft":{"labelFont":"Liberation Sans"}
}
}
